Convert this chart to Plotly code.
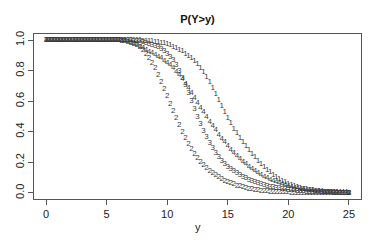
import plotly.graph_objects as go

# grid of y values (0 to 25 by 0.25), written as rows of one unit each
y_grid = [
    0.0, 0.25, 0.5, 0.75, 1.0, 1.25, 1.5, 1.75, 2.0, 2.25, 2.5, 2.75,
    3.0, 3.25, 3.5, 3.75, 4.0, 4.25, 4.5, 4.75, 5.0, 5.25, 5.5, 5.75,
    6.0, 6.25, 6.5, 6.75, 7.0, 7.25, 7.5, 7.75, 8.0, 8.25, 8.5, 8.75,
    9.0, 9.25, 9.5, 9.75, 10.0, 10.25, 10.5, 10.75, 11.0, 11.25, 11.5, 11.75,
    12.0, 12.25, 12.5, 12.75, 13.0, 13.25, 13.5, 13.75, 14.0, 14.25, 14.5, 14.75,
    15.0, 15.25, 15.5, 15.75, 16.0, 16.25, 16.5, 16.75, 17.0, 17.25, 17.5, 17.75,
    18.0, 18.25, 18.5, 18.75, 19.0, 19.25, 19.5, 19.75, 20.0, 20.25, 20.5, 20.75,
    21.0, 21.25, 21.5, 21.75, 22.0, 22.25, 22.5, 22.75, 23.0, 23.25, 23.5, 23.75,
    24.0, 24.25, 24.5, 24.75, 25.0,
]

surv_1 = [
    1, 1, 1, 1, 1, 1, 1, 1, 1, 1, 1, 1, 1, 1, 1, 1, 1, 1, 1, 1,
    1, 1, 1, 1, 1, 1, 1, 1,
    1, .999, .999, .998,
    .997, .996, .994, .992,
    .99, .987, .983, .978,
    .972, .965, .957, .948,
    .938, .926, .912, .897,
    .88, .863, .845, .819,
    .79, .759, .725, .689,
    .65, .61, .57, .53,
    .49, .455, .42, .39,
    .36, .332, .305, .28,
    .255, .232, .21, .19,
    .17, .152, .135, .12,
    .105, .092, .08, .07,
    .06, .052, .045, .039,
    .033, .028, .023, .019,
    .016, .013, .011, .009,
    .007, .006, .004, .003,
    .003, .002, .002, .001,
    .001,
]

surv_2 = [
    1, 1, 1, 1, 1, 1, 1, 1, 1, 1, 1, 1, 1, 1, 1, 1, 1, 1, 1, 1,
    1, 1, 1, .999,
    .998, .996, .993, .989,
    .983, .975, .965, .952,
    .935, .912, .885, .853,
    .815, .773, .728, .68,
    .632, .583, .535, .488,
    .443, .4, .36, .322,
    .287, .255, .226, .202,
    .18, .16, .143, .128,
    .114, .101, .09, .08,
    .071, .063, .055, .048,
    .042, .036, .031, .027,
    .023, .02, .017, .014,
    .012, .01, .008, .007,
    .006, .005, .004, .003,
    .003, .002, .002, .001,
    .001, .001, .001, 0,
    0, 0, 0, 0,
    0, 0, 0, 0,
    0, 0, 0, 0,
    0,
]

surv_3 = [
    1, 1, 1, 1, 1, 1, 1, 1, 1, 1, 1, 1, 1, 1, 1, 1, 1, 1, 1, 1,
    1, 1, 1, 1,
    1, 1, 1, .999,
    .998, .996, .994, .991,
    .987, .982, .976, .969,
    .961, .952, .941, .928,
    .912, .892, .868, .838,
    .8, .755, .705, .653,
    .6, .55, .5, .453,
    .408, .366, .327, .291,
    .26, .232, .207, .188,
    .17, .155, .141, .128,
    .115, .105, .095, .086,
    .077, .07, .063, .056,
    .05, .045, .04, .036,
    .032, .029, .026, .023,
    .02, .018, .016, .014,
    .012, .011, .009, .008,
    .007, .006, .005, .005,
    .004, .003, .003, .002,
    .002, .002, .001, .001,
    .001,
]

surv_4 = [
    1, 1, 1, 1, 1, 1, 1, 1, 1, 1, 1, 1, 1, 1, 1, 1, 1, 1, 1, 1,
    1, 1, 1, 1,
    .999, .997, .994, .99,
    .984, .977, .968, .958,
    .947, .936, .925, .914,
    .903, .892, .88, .866,
    .851, .835, .816, .794,
    .77, .743, .714, .684,
    .653, .622, .59, .558,
    .527, .496, .466, .437,
    .409, .382, .356, .331,
    .307, .284, .262, .241,
    .222, .204, .187, .171,
    .156, .142, .129, .117,
    .106, .096, .087, .078,
    .07, .063, .056, .05,
    .045, .04, .035, .031,
    .027, .024, .021, .018,
    .016, .014, .012, .01,
    .009, .007, .006, .005,
    .004, .004, .003, .003,
    .002,
]

series = [("1", surv_1), ("2", surv_2), ("3", surv_3), ("4", surv_4)]
x_ticks = [0, 5, 10, 15, 20, 25]
y_ticks = [0.0, 0.2, 0.4, 0.6, 0.8, 1.0]
y_tick_text = ["0.0", "0.2", "0.4", "0.6", "0.8", "1.0"]

FONT = "Liberation Sans, Arial, sans-serif"

fig = go.Figure()
for label, vals in series:
    fig.add_trace(go.Scatter(
        x=y_grid, y=vals, mode="text", text=[label] * len(vals),
        textposition="middle center",
        textfont=dict(family=FONT, size=8, color="#3a3a3a"),
        showlegend=False, hoverinfo="skip", cliponaxis=False,
    ))

axis_common = dict(
    showline=True, linecolor="#555", linewidth=1, mirror=True,
    ticks="outside", ticklen=5, tickcolor="#555", tickwidth=1,
    showgrid=False, zeroline=False, automargin=False,
    tickfont=dict(family=FONT, size=11, color="#222"),
)

fig.update_layout(
    width=382, height=240,
    margin=dict(l=34, r=21, t=34, b=41, pad=0),
    paper_bgcolor="white", plot_bgcolor="white",
    hovermode=False,
    title=dict(text="<b>P(Y>y)</b>", x=(34 + 361) / 2 / 382, xanchor="center",
               y=1 - 19 / 240, yanchor="middle", yref="container",
               font=dict(family=FONT, size=11, color="#111")),
    xaxis=dict(range=[-1, 26], tickvals=x_ticks, ticktext=[str(v) for v in x_ticks], **axis_common),
    yaxis=dict(range=[-0.04, 1.04], tickvals=y_ticks, ticktext=y_tick_text, tickangle=-90, **axis_common),
    annotations=[dict(text="y", xref="paper", yref="paper", x=0.5, y=-(227 - 199) / 165,
                      xanchor="center", yanchor="middle", showarrow=False,
                      font=dict(family=FONT, size=11, color="#222"))],
)

fig.write_html("out.html", config={"displayModeBar": False, "staticPlot": True},
               post_script="document.body.style.margin='0px';document.body.style.padding='0px';")
